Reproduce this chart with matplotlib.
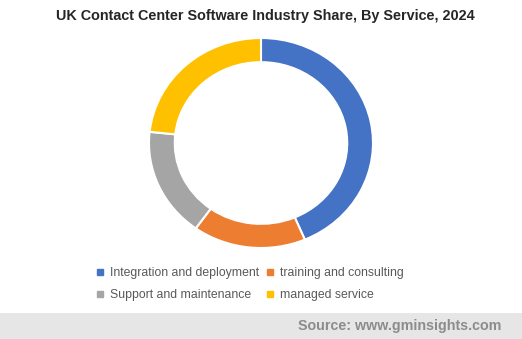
import matplotlib.pyplot as plt
from matplotlib.lines import Line2D
from matplotlib.patches import Rectangle

plt.rcParams["font.family"] = ["Liberation Sans", "DejaVu Sans"]

# share of UK contact center software industry by service, 2024 (%)
services = ["Integration and deployment", "training and consulting",
            "Support and maintenance", "managed service"]
shares = [43.6, 16.3, 16.8, 23.3]
colors = ["#4472C4", "#ED7D31", "#A5A5A5", "#FFC000"]

W, H = 522, 339
fig = plt.figure(figsize=(W / 100, H / 100), dpi=100)
fig.patch.set_facecolor("white")

# grey footer band
fig.add_artist(Rectangle((0, 0), 1, 26 / H, transform=fig.transFigure,
                         facecolor="#E6E6E6", edgecolor="none", zorder=0))
fig.text(501 / W, 1 - 326 / H, "Source: www.gminsights.com", ha="right", va="center",
         fontsize=10.3, fontweight="bold", color="#8C8C8C")

fig.text(0.5 + 4 / W, 1 - 16 / H,
         "UK Contact Center Software Industry Share, By Service, 2024",
         ha="center", va="center", fontsize=10.4, fontweight="bold", color="#262626")

# donut chart
left, right, top, bottom = 149, 373, 38, 248
ax = fig.add_axes([left / W, 1 - bottom / H, (right - left) / W, (bottom - top) / H])
ax.pie(shares, colors=colors, startangle=90, counterclock=False,
       wedgeprops=dict(width=0.23, edgecolor="white", linewidth=1.5))
ax.set_aspect("auto")
ax.set_xlim(-1, 1)
ax.set_ylim(-1, 1)
ax.axis("off")

# legend is filled column by column, so reorder to read row by row
order = [0, 2, 1, 3]
handles = [Line2D([], [], marker="s", linestyle="none", markersize=4,
                  markerfacecolor=colors[i], markeredgecolor=colors[i]) for i in order]
fig.legend(handles, [services[i] for i in order], loc="center", ncol=2,
           bbox_to_anchor=(0.5 - 11 / W, 1 - 284 / H), frameon=False,
           fontsize=8.8, labelcolor="#595959", handlelength=0.6,
           handletextpad=0.55, columnspacing=0.6, labelspacing=0.85)

fig.savefig("out.png", dpi=100)
